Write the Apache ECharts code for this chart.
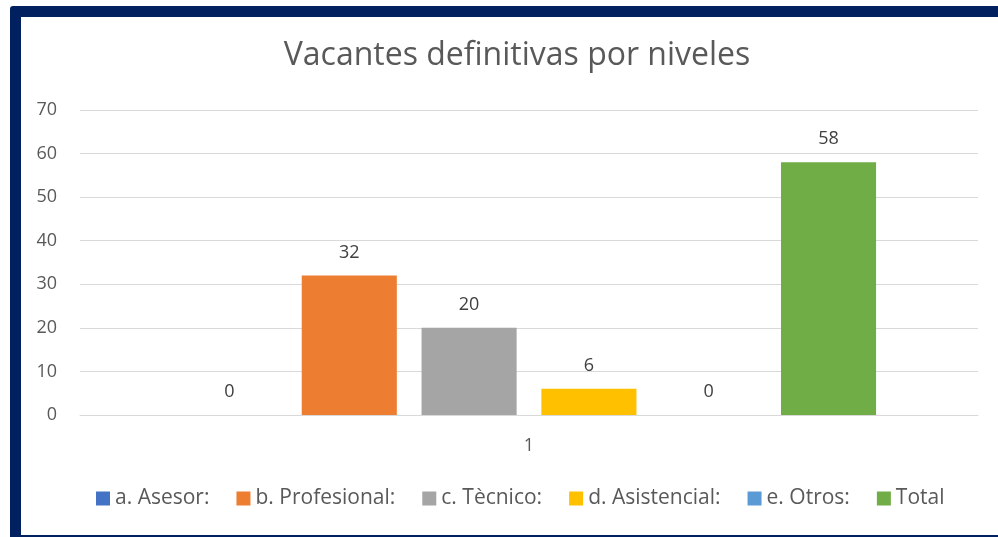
<!DOCTYPE html>
<html>
<head>
<meta charset="utf-8">
<script src="https://cdn.jsdelivr.net/npm/echarts@6/dist/echarts.min.js"></script>
<style>
  html, body { margin: 0; padding: 0; background: #fff; overflow: hidden; }
  #frame {
    position: absolute; left: 10px; top: 6px;
    width: 1000px; height: 540px;
    border: 11px solid #002060; border-radius: 3px;
    box-sizing: border-box;
  }
  #chart { position: absolute; left: 0; top: 0; width: 998px; height: 537px; }
</style>
</head>
<body>
<div id="chart"></div>
<div id="frame"></div>
<script>
  // datos
  const categories = ["1"];
  const seriesNames = ["a. Asesor:", "b. Profesional:", "c. Tècnico:", "d. Asistencial:", "e. Otros:", "Total"];
  const seriesValues = [[0], [32], [20], [6], [0], [58]];
  const colors = ["#4472C4", "#ED7D31", "#A5A5A5", "#FFC000", "#5B9BD5", "#70AD47"];

  const font = "'Open Sans', Lato, sans-serif";
  const myChart = echarts.init(document.getElementById("chart"));

  myChart.setOption({
    backgroundColor: "#ffffff",
    animation: false,
    textStyle: { fontFamily: font },
    title: {
      text: "Vacantes definitivas por niveles",
      left: 512,
      top: 35,
      textAlign: "center",
      textStyle: { fontWeight: "normal", fontSize: 32, color: "#595959", fontFamily: font },
    },
    legend: {
      bottom: 23,
      left: 91,
      icon: "rect",
      itemWidth: 14,
      itemHeight: 14,
      itemGap: 27,
      textStyle: { fontSize: 21, color: "#595959", fontFamily: font },
      data: seriesNames,
    },
    grid: { left: 80, right: 20, top: 110, bottom: 122 },
    xAxis: {
      type: "category",
      data: categories,
      axisTick: { show: false },
      axisLine: { lineStyle: { color: "#d9d9d9" } },
      axisLabel: { fontSize: 18, color: "#595959", margin: 22 },
    },
    yAxis: {
      type: "value",
      min: 0,
      max: 70,
      interval: 10,
      axisLine: { show: false },
      axisTick: { show: false },
      axisLabel: { fontSize: 18, color: "#595959", margin: 23 },
      splitLine: { lineStyle: { color: "#d9d9d9", width: 1 } },
    },
    series: seriesNames.map((name, i) => ({
      name: name,
      type: "bar",
      data: seriesValues[i],
      barGap: "26%",
      barCategoryGap: "22.7%",
      itemStyle: { color: colors[i] },
      label: {
        show: true,
        position: "top",
        distance: 14,
        fontSize: 18,
        color: "#404040",
        fontFamily: font,
      },
    })),
  });
</script>
</body>
</html>
